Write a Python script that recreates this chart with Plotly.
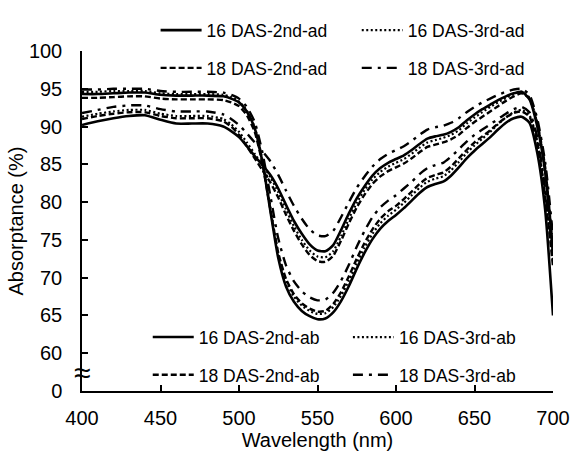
import plotly.graph_objects as go

wavelength = [400, 410, 420, 430, 440, 450, 460, 470, 480,
              490, 495, 500, 505, 510, 515, 520, 525, 530, 535, 540, 545, 550, 555, 560, 565,
              570, 575, 580, 585, 590, 595, 600, 605, 610, 615, 620, 625, 630, 635, 640, 645,
              650, 655, 660, 665, 670, 675, 680, 685, 690, 695, 700]

das16_2nd_ad = [90.2, 90.7, 91.1, 91.4, 91.5, 90.9, 90.4, 90.4, 90.4,
                90.0, 89.4, 88.6, 87.4, 86.1, 84.9, 83.6, 81.8, 79.6, 77.5, 75.8, 74.4, 73.6, 73.5, 74.3, 76.3,
                78.5, 80.5, 82.1, 83.5, 84.5, 85.2, 85.7, 86.2, 86.9, 87.7, 88.4, 88.7, 88.9, 89.3, 89.9, 90.8,
                91.6, 92.3, 92.9, 93.5, 94.0, 94.4, 94.6, 93.6, 90.0, 84.0, 73.5]
das16_3rd_ad = [91.3, 91.7, 92.0, 92.2, 92.2, 91.7, 91.4, 91.4, 91.4,
                91.0, 90.3, 89.3, 87.9, 86.4, 84.9, 83.3, 81.3, 79.0, 76.8, 75.0, 73.6, 72.8, 72.7, 73.5, 75.5,
                77.8, 79.9, 81.6, 83.0, 84.0, 84.7, 85.2, 85.7, 86.4, 87.2, 87.9, 88.2, 88.5, 88.9, 89.5, 90.4,
                91.2, 91.9, 92.6, 93.2, 93.8, 94.3, 94.6, 93.8, 90.4, 84.5, 74.0]
das18_2nd_ad = [91.0, 91.4, 91.7, 91.9, 91.9, 91.4, 91.1, 91.1, 91.1,
                90.7, 90.0, 88.9, 87.4, 85.8, 84.2, 82.6, 80.6, 78.3, 76.2, 74.4, 73.0, 72.2, 72.1, 72.9, 74.9,
                77.2, 79.3, 81.0, 82.4, 83.4, 84.1, 84.6, 85.1, 85.8, 86.6, 87.3, 87.6, 87.9, 88.3, 88.9, 89.8,
                90.6, 91.3, 92.0, 92.7, 93.4, 94.0, 94.4, 93.7, 90.5, 84.6, 73.0]
das18_3rd_ad = [91.8, 92.2, 92.6, 92.8, 92.8, 92.3, 92.0, 92.0, 92.0,
                91.6, 91.0, 90.2, 89.1, 87.9, 86.7, 85.4, 83.6, 81.5, 79.5, 77.8, 76.4, 75.6, 75.5, 76.2, 78.0,
                80.0, 81.9, 83.4, 84.7, 85.7, 86.4, 86.9, 87.4, 88.1, 88.9, 89.6, 89.9, 90.1, 90.5, 91.1, 91.9,
                92.6, 93.2, 93.7, 94.2, 94.6, 94.9, 95.0, 94.2, 91.0, 85.3, 75.5]

das16_2nd_ab = [94.3, 94.3, 94.4, 94.5, 94.5, 94.2, 94.1, 94.1, 94.1,
                94.0, 93.7, 93.2, 92.0, 89.8, 85.2, 78.8, 72.6, 68.8, 66.8, 65.6, 64.9, 64.5, 64.6, 65.4, 66.9,
                68.9, 71.2, 73.3, 75.1, 76.5, 77.5, 78.3, 79.2, 80.2, 81.2, 82.0, 82.4, 82.7, 83.5, 84.6, 85.8,
                86.8, 87.7, 88.6, 89.6, 90.5, 91.1, 91.3, 90.5, 86.5, 79.0, 65.0]
das16_3rd_ab = [94.6, 94.6, 94.7, 94.7, 94.7, 94.4, 94.3, 94.3, 94.3,
                94.2, 93.9, 93.3, 92.1, 89.9, 85.5, 79.3, 73.2, 69.5, 67.5, 66.3, 65.6, 65.2, 65.3, 66.1, 67.6,
                69.6, 71.9, 74.0, 75.8, 77.2, 78.2, 79.0, 79.9, 80.9, 81.9, 82.7, 83.1, 83.4, 84.2, 85.3, 86.5,
                87.5, 88.4, 89.3, 90.3, 91.2, 91.9, 92.2, 91.5, 88.0, 81.0, 72.0]
das18_2nd_ab = [93.8, 93.8, 93.9, 94.0, 94.0, 93.7, 93.6, 93.6, 93.6,
                93.5, 93.2, 92.7, 91.5, 89.3, 85.0, 79.0, 73.3, 69.8, 67.8, 66.6, 65.9, 65.5, 65.6, 66.5, 68.1,
                70.2, 72.5, 74.6, 76.4, 77.8, 78.8, 79.5, 80.4, 81.4, 82.4, 83.2, 83.6, 83.9, 84.7, 85.8, 86.9,
                87.9, 88.7, 89.5, 90.4, 91.2, 91.8, 92.0, 91.3, 87.8, 80.8, 71.5]
das18_3rd_ab = [94.9, 94.9, 95.0, 95.0, 95.0, 94.7, 94.6, 94.6, 94.6,
                94.5, 94.2, 93.7, 92.6, 90.6, 86.5, 80.8, 75.2, 71.6, 69.5, 68.2, 67.4, 67.0, 67.1, 68.0, 69.6,
                71.7, 74.1, 76.2, 78.0, 79.3, 80.2, 80.9, 81.8, 82.7, 83.7, 84.5, 84.9, 85.2, 86.0, 87.0, 88.0,
                88.9, 89.6, 90.3, 91.0, 91.7, 92.3, 92.6, 91.9, 88.6, 81.8, 73.0]

y_tickvals = [55, 60, 65, 70, 75, 80, 85, 90, 95, 100]
y_ticktext = ["0", "60", "65", "70", "75", "80", "85", "90", "95", "100"]
x_tickvals = [400, 450, 500, 550, 600, 650, 700]

FONT = "Liberation Sans, Arial, sans-serif"
W, H = 582, 459
ML, MR, MT, MB = 82, 20, 44, 55
PW, PH = W - ML - MR, H - MT - MB
ITEMW = 41

def px2paper_x(px):
    return (px - ML) / PW

def px2paper_y(py):
    return (H - MB - py) / PH

dot = "2px,2.5px"
dash = "6px,3px"
dashdot = "10px,6px,3px,6px"

series = [
    ("16 DAS-2nd-ad", das16_2nd_ad, None, 2.6, "legend", 208, 22),
    ("16 DAS-3rd-ad", das16_3rd_ad, dot, 2.2, "legend2", 413, 22),
    ("18 DAS-2nd-ad", das18_2nd_ad, dash, 2.4, "legend3", 208, 62),
    ("18 DAS-3rd-ad", das18_3rd_ad, dashdot, 2.4, "legend4", 413, 62),
    ("16 DAS-2nd-ab", das16_2nd_ab, None, 2.6, "legend5", 200, 347),
    ("16 DAS-3rd-ab", das16_3rd_ab, dot, 2.2, "legend6", 404, 347),
    ("18 DAS-2nd-ab", das18_2nd_ab, dash, 2.4, "legend7", 200, 387),
    ("18 DAS-3rd-ab", das18_3rd_ab, dashdot, 2.4, "legend8", 404, 387),
]

fig = go.Figure()
legend_layouts = {}
for name, vals, dsh, lw, leg, tx, ty in series:
    line = dict(color="black", width=lw, shape="spline", smoothing=0.6)
    if dsh:
        line["dash"] = dsh
    fig.add_trace(go.Scatter(x=wavelength, y=vals, mode="lines", name=name,
                             line=line, legend=leg, showlegend=True))
    legend_layouts[leg] = dict(
        x=px2paper_x(tx - (ITEMW + 10)), y=px2paper_y(ty), xanchor="left", yanchor="middle",
        orientation="v", bgcolor="rgba(0,0,0,0)", borderwidth=0,
        font=dict(family=FONT, size=17.5, color="black"),
        itemwidth=ITEMW, tracegroupgap=0,
    )

fig.update_layout(**legend_layouts)

fig.add_annotation(text="≈", x=0, xref="paper", y=57.4, yref="y", showarrow=False,
                   xanchor="center", yanchor="middle",
                   font=dict(family=FONT, size=30, color="black"))

fig.update_layout(
    width=W, height=H,
    margin=dict(l=ML, r=MR, t=MT, b=MB),
    paper_bgcolor="white", plot_bgcolor="white",
    font=dict(family=FONT, color="black"),
    xaxis=dict(range=[400, 700], tickvals=x_tickvals, ticks="inside", ticklen=6,
               tickwidth=1.5, tickcolor="black", showline=True, linecolor="black",
               linewidth=1.5, showgrid=False, zeroline=False,
               tickfont=dict(family=FONT, size=20, color="black"),
               ticklabelstandoff=8,
               title=dict(text="Wavelength (nm)", font=dict(family=FONT, size=20, color="black"),
                          standoff=4)),
    yaxis=dict(range=[55, 100], tickvals=y_tickvals, ticktext=y_ticktext, ticks="inside",
               ticklen=6, tickwidth=1.5, tickcolor="black", showline=True, linecolor="black",
               linewidth=1.5, showgrid=False, zeroline=False,
               tickfont=dict(family=FONT, size=20, color="black"),
               ticklabelstandoff=14,
               title=dict(text="Absorptance (%)", font=dict(family=FONT, size=20, color="black"),
                          standoff=0)),
)

fig.write_html("out.html")
